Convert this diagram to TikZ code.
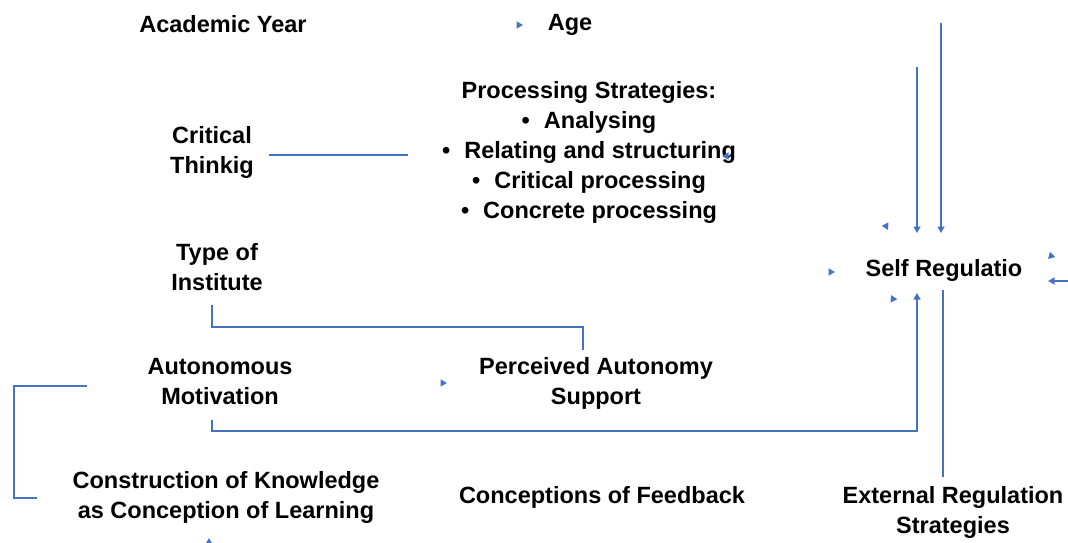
\documentclass[tikz,border=0pt]{standalone}
\usepackage{fontspec}
\setmainfont{Liberation Sans}
\usetikzlibrary{arrows.meta}
\definecolor{linkblue}{HTML}{4472C4}

\tikzset{
    lbl/.style={font=\bfseries\fontsize{23.5}{30}\selectfont, align=center, inner sep=0pt},
    link/.style={draw=linkblue, line width=1.5pt},
    tip/.style={link, -{Triangle[length=6.5pt,width=7pt]}},
}

\begin{document}
\begin{tikzpicture}[x=1pt,y=1pt]
    \useasboundingbox (0,0) rectangle (1068,542);

    % factors
    \node[lbl] (acyear) at (223,518) {Academic Year};
    \node[lbl] (age) at (570,517) {Age};
    \node[lbl] (procstrat) at (589,390) {Processing Strategies:\\
        \textbullet\hspace{14pt}Analysing\\
        \textbullet\hspace{14pt}Relating and structuring\\
        \textbullet\hspace{14pt}Critical processing\\
        \textbullet\hspace{14pt}Concrete processing};
    \node[lbl] (critthink) at (212,390) {Critical\\Thinkig};
    \node[lbl] (insttype) at (217,275) {Type of\\Institute};
    \node[lbl] (automot) at (220,160) {Autonomous\\Motivation};
    \node[lbl] (pas) at (596,159) {Perceived Autonomy\\Support};
    \node[lbl] (constr) at (226,45) {Construction of Knowledge\\as Conception of Learning};
    \node[lbl] (feedback) at (602,45) {Conceptions of Feedback};
    \node[lbl] (extreg) at (953,30) {External Regulation\\Strategies};
    \node[lbl] (selfreg) at (944,272) {Self Regulatio};

    % bends and free ends
    \coordinate (ct-start) at (269,387);
    \coordinate (ct-end) at (408,387);
    \coordinate (it-a) at (212,237);
    \coordinate (it-b) at (583,192);
    \coordinate (am-a) at (212,122);
    \coordinate (am-b) at (917,249);
    \coordinate (br-a) at (87,156);
    \coordinate (br-b) at (37,44);
    \coordinate (er-a) at (943,65);
    \coordinate (er-b) at (943,252);
    \coordinate (top-a) at (917,475);
    \coordinate (top-b) at (941,519);
    \coordinate (sr-in) at (1068,261);

    % connectors
    \draw[link] (ct-start) -- (ct-end);
    \draw[link] (it-a) -- (212,215) -- (583,215) -- (it-b);
    \draw[tip] (am-a) -- (212,111) -- (917,111) -- (am-b);
    \draw[link] (br-a) -- (14,156) -- (14,44) -- (br-b);
    \draw[link] (er-a) -- (er-b);
    \draw[tip] (top-a) -- (917,309);
    \draw[tip] (top-b) -- (941,309);
    \draw[tip] (sr-in) -- (1048,261);

    % stray arrow tips
    \draw[tip] (518,517) -- ++(5,0);
    \draw[tip] (726,386) -- ++(-4,0);
    \draw[tip] (442,159) -- ++(5,0);
    \draw[tip] (209,-2) -- ++(0,6);
    \draw[tip] (886,316) -- ++(2,-4);
    \draw[tip] (830,270) -- ++(5,0);
    \draw[tip] (893,243) -- ++(-2,4);
    \draw[tip] (1051,286) -- ++(-3,-3);
\end{tikzpicture}
\end{document}
